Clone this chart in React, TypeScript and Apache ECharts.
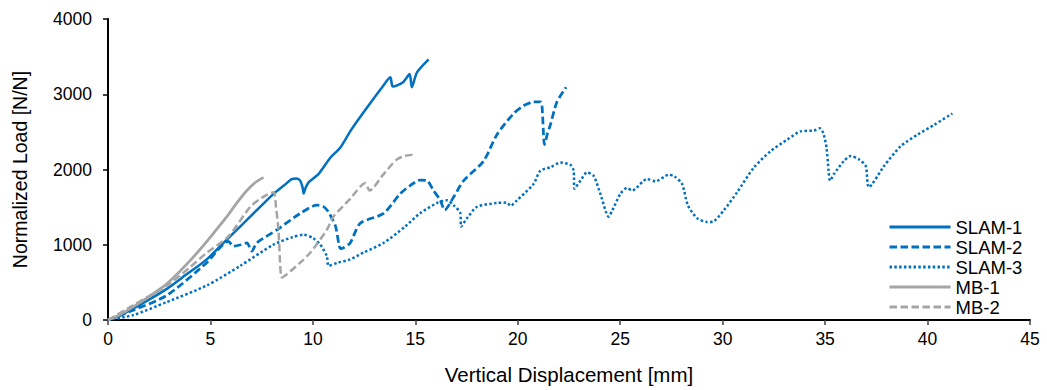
import React, { useEffect, useRef } from "react";
import * as echarts from "echarts";

const seriesNames = ["SLAM-1", "SLAM-2", "SLAM-3", "MB-1", "MB-2"];

const slam1: number[][] = [
  [0, 0], [0.6, 60], [1.23, 150], [2, 270], [2.87, 414], [3.8, 600], [4.82, 806], [5.96, 1111],
  [6.94, 1373], [8.08, 1677], [8.6, 1790], [8.97, 1873], [9.2, 1880], [9.38, 1852], [9.5, 1760],
  [9.55, 1680], [9.65, 1760], [9.79, 1830], [10.27, 1939], [10.85, 2157], [11.33, 2288], [11.82, 2506],
  [12.15, 2637], [12.96, 2941], [13.4, 3100], [13.78, 3225], [13.9, 3102], [14.4, 3159], [14.72, 3268],
  [14.83, 3094], [15.08, 3290], [15.65, 3464],
];

const slam2: number[][] = [
  [0, 0], [1.23, 130], [2.87, 327], [4.82, 762], [5.88, 1046], [6.12, 980], [6.5, 1000], [6.78, 1024],
  [7.02, 915], [7.26, 1024], [8.24, 1198], [9.38, 1416], [10.19, 1525], [10.5, 1510], [10.75, 1440],
  [11.1, 1250], [11.35, 950], [11.5, 960], [11.82, 1024], [12.31, 1285], [13.45, 1416], [14.26, 1677],
  [14.75, 1787], [15.24, 1860], [15.57, 1852], [15.89, 1721], [16.22, 1590], [16.43, 1460], [16.87, 1634],
  [17.36, 1852], [18.33, 2111], [18.98, 2462], [19.8, 2745], [20.3, 2850], [20.77, 2898], [21.1, 2900],
  [21.18, 2850], [21.25, 2500], [21.3, 2331], [21.45, 2480], [21.59, 2593], [21.91, 2898], [22.36, 3094],
];

const slam3: number[][] = [
  [0, 0], [1.23, 65], [2.87, 239], [4.82, 458], [6.45, 719], [8.08, 1002], [9.0, 1100], [9.54, 1133],
  [10.0, 1090], [10.36, 1002], [10.68, 850], [10.77, 719], [11.2, 760], [11.82, 806], [12.5, 900],
  [13.45, 1024], [14.5, 1242], [15.24, 1420], [16.1, 1560], [16.54, 1590], [16.87, 1525], [17.2, 1416],
  [17.23, 1242], [17.52, 1351], [18.0, 1503], [18.98, 1555], [19.47, 1560], [19.64, 1517], [19.96, 1590],
  [20.77, 1808], [21.1, 1983], [21.6, 2030], [22.08, 2092], [22.57, 2061], [22.73, 1983], [22.76, 1743],
  [23.06, 1852], [23.38, 1961], [23.7, 1917], [24.03, 1677], [24.44, 1373], [24.6, 1450], [25.01, 1677],
  [25.33, 1755], [25.58, 1721], [26.31, 1873], [26.72, 1843], [27.37, 1930], [27.65, 1908], [28.02, 1808],
  [28.3, 1525], [28.76, 1351], [29.24, 1303], [29.52, 1307], [30.06, 1460], [30.71, 1699], [31.52, 2026],
  [32.34, 2244], [33.15, 2397], [33.8, 2506], [34.45, 2518], [34.73, 2549], [34.91, 2484], [35.07, 2288],
  [35.17, 1983], [35.24, 1852], [35.43, 1939], [35.92, 2114], [36.25, 2179], [36.65, 2135], [36.98, 2048],
  [37.14, 1765], [37.88, 2048], [38.69, 2310], [39.5, 2462], [40.32, 2593], [41.21, 2745],
];

const mb1: number[][] = [
  [0, 0], [0.5, 60], [1.23, 174], [2.0, 310], [2.87, 480], [3.7, 700], [4.49, 937], [5.2, 1170],
  [5.8, 1373], [6.3, 1560], [6.78, 1721], [7.2, 1830], [7.59, 1895],
];

const mb2: number[][] = [
  [0, 0], [1.23, 196], [2.87, 458], [4.0, 700], [4.82, 893], [5.88, 1111], [6.94, 1503], [7.6, 1640],
  [8.08, 1699], [8.2, 1500], [8.32, 1198], [8.48, 566], [8.7, 600], [9.38, 762], [9.87, 893],
  [10.68, 1198], [11.0, 1373], [11.82, 1610], [12.55, 1817], [12.77, 1721], [13.45, 1939], [14.1, 2135],
  [14.5, 2180], [14.92, 2200],
];

const xTicks = { min: 0, max: 45, interval: 5 };
const yTicks = { min: 0, max: 4000, interval: 1000 };

const BLUE = "#0070C0";
const GRAY = "#A5A5A5";
const FONT = "Liberation Sans, Arial, sans-serif";

export default function App() {
  const ref = useRef<HTMLDivElement>(null);
  useEffect(() => {
    document.body.style.margin = "0";
    const chart = echarts.init(ref.current!, null, { renderer: "svg" });
    const mk = (name: string, data: number[][], color: string, type: any, width: number) => ({
      name,
      type: "line",
      data,
      symbol: "none",
      smooth: 0.25,
      lineStyle: { color, type, width, cap: "butt" },
      itemStyle: { color },
    });
    chart.setOption({
      animation: false,
      textStyle: { fontFamily: FONT },
      grid: { left: 108, right: 17, top: 19, bottom: 65 },
      legend: {
        orient: "vertical",
        left: 883,
        top: 212,
        itemWidth: 61,
        itemHeight: 12,
        itemGap: 0,
        itemStyle: { opacity: 0 },
        lineStyle: { width: 3 },
        textStyle: { fontSize: 18.5, color: "#000", fontFamily: FONT, lineHeight: 20 },
        data: seriesNames,
      },
      xAxis: {
        type: "value",
        min: xTicks.min,
        max: xTicks.max,
        interval: xTicks.interval,
        name: "Vertical Displacement [mm]",
        nameLocation: "middle",
        nameGap: 44,
        nameTextStyle: { fontSize: 20.5, color: "#000", fontFamily: FONT },
        axisLine: { lineStyle: { color: "#000", width: 2 } },
        axisTick: { show: true, length: 5, lineStyle: { color: "#404040", width: 1.5 } },
        axisLabel: { fontSize: 17.5, color: "#000", margin: 10, fontFamily: FONT },
        splitLine: { show: false },
      },
      yAxis: {
        type: "value",
        min: yTicks.min,
        max: yTicks.max,
        interval: yTicks.interval,
        name: "Normalized Load [N/N]",
        nameLocation: "middle",
        nameGap: 78,
        nameRotate: 90,
        nameTextStyle: { fontSize: 19.5, color: "#000", fontFamily: FONT },
        axisLine: { show: true, lineStyle: { color: "#000", width: 2 } },
        axisTick: { show: true, length: 5, lineStyle: { color: "#000", width: 1.5 } },
        axisLabel: {
          fontSize: 17.5,
          color: "#000",
          margin: 16,
          fontFamily: FONT,
          formatter: (v: number) => String(v),
        },
        splitLine: { show: false },
      },
      series: [
        mk("SLAM-1", slam1, BLUE, "solid", 2.5),
        mk("SLAM-2", slam2, BLUE, [7.5, 3.5], 2.75),
        mk("SLAM-3", slam3, BLUE, [2.5, 2.3], 2.5),
        mk("MB-1", mb1, GRAY, "solid", 2.75),
        mk("MB-2", mb2, GRAY, [7.5, 3.5], 2.5),
      ],
    });
    return () => chart.dispose();
  }, []);
  return <div ref={ref} style={{ width: 1047, height: 390 }} />;
}
